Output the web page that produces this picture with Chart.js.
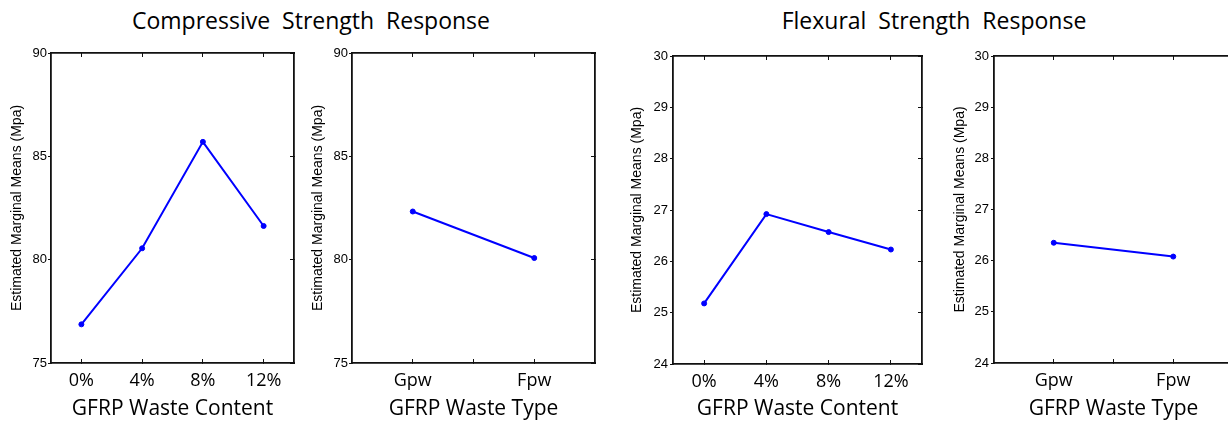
<!DOCTYPE html>
<html>
<head>
<meta charset="utf-8">
<script src="https://cdn.jsdelivr.net/npm/chart.js@4"></script>
<style>
  html, body { margin: 0; padding: 0; background: #fff; overflow: hidden; }
  body { width: 1228px; height: 423px; position: relative; }
  canvas { position: absolute; }
  .title { position: absolute; top: 9px; font-family: "Open Sans", sans-serif; font-size: 23px; line-height: 23px; color: #000; white-space: pre; transform: translateX(-50%); }
</style>
</head>
<body>
<div class="title" style="left:311px">Compressive  Strength  Response</div>
<div class="title" style="left:934px">Flexural  Strength  Response</div>
<canvas id="c1" width="300" height="393" style="left:0px;top:30px"></canvas>
<canvas id="c2" width="300" height="393" style="left:300px;top:30px"></canvas>
<canvas id="c3" width="315" height="393" style="left:615px;top:30px"></canvas>
<canvas id="c4" width="320" height="393" style="left:935px;top:30px"></canvas>
<script>
// categories
const contentLabels = ['0%', '4%', '8%', '12%'];
const typeLabels = ['Gpw', 'Fpw'];

// estimated marginal means (Mpa)
const compContent = [76.87, 80.55, 85.70, 81.63];
const compType = [82.33, 80.08];
const flexContent = [25.18, 26.92, 26.57, 26.23];
const flexType = [26.35, 26.08];

// tick values
const compTicks = [75, 80, 85, 90];
const flexTicks = [24, 25, 26, 27, 28, 29, 30];
const contentTicks = [0, 1, 2, 3];
const typeTicks = [0, 0.5, 1];

const yTitle = 'Estimated Marginal Means (Mpa)';

function makePanel(id, labels, values, yTicks, xTicks, xTitle, lay) {
    const ctx = document.getElementById(id).getContext('2d');
    const border = { display: true, color: '#111', width: 1.8 };
    const setX = (s) => { s.ticks = xTicks.map(v => ({ value: v })); };
    const setY = (s) => { s.ticks = yTicks.map(v => ({ value: v })); };
    new Chart(ctx, { //eslint-disable-line
        type: 'line',
        data: {
            datasets: [{
                data: values.map((v, i) => ({ x: i, y: v })),
                borderColor: '#0000ff',
                borderWidth: 2,
                backgroundColor: '#0000ff',
                pointRadius: 2.5,
                pointBorderWidth: 1,
                tension: 0
            }]
        },
        options: {
            responsive: false,
            animation: false,
            events: [],
            layout: { padding: { top: lay.top, right: lay.right, left: 0, bottom: 0 } },
            plugins: { legend: { display: false }, tooltip: { enabled: false } },
            scales: {
                x: {
                    type: 'linear', position: 'bottom',
                    min: -0.5, max: labels.length - 0.5,
                    afterBuildTicks: setX,
                    afterFit: (s) => { s.height = lay.xh; },
                    border: border,
                    grid: { drawOnChartArea: false, tickLength: -4, color: '#111' },
                    ticks: {
                        autoSkip: false, maxRotation: 0, padding: 11, color: '#000',
                        font: { family: 'Open Sans', size: 18 },
                        callback: (v) => Number.isInteger(v) ? labels[v] : ''
                    },
                    title: {
                        display: true, text: xTitle, color: '#000',
                        font: { family: 'Open Sans', size: 21 },
                        padding: { top: 0, bottom: 1 }
                    }
                },
                x2: {
                    type: 'linear', position: 'top',
                    min: -0.5, max: labels.length - 0.5,
                    afterBuildTicks: setX,
                    afterFit: (s) => { s.height = 0; },
                    border: border,
                    grid: { drawOnChartArea: false, tickLength: -4, color: '#111' },
                    ticks: { display: false }
                },
                y: {
                    type: 'linear', position: 'left',
                    min: yTicks[0], max: yTicks[yTicks.length - 1],
                    afterBuildTicks: setY,
                    afterFit: (s) => { s.width = lay.yw; },
                    border: border,
                    grid: { drawOnChartArea: false, tickLength: 3, color: '#111' },
                    ticks: { padding: lay.tp, color: '#000', font: { family: 'Liberation Sans', size: 13 } },
                    title: {
                        display: true, text: yTitle, color: '#000',
                        font: { family: 'Liberation Sans', size: 14 },
                        padding: { top: lay.yt, bottom: 0 }
                    }
                },
                y2: {
                    type: 'linear', position: 'right',
                    display: !lay.cut,
                    min: yTicks[0], max: yTicks[yTicks.length - 1],
                    afterBuildTicks: setY,
                    afterFit: (s) => { s.width = 0; },
                    border: border,
                    grid: { drawOnChartArea: false, tickLength: -4, color: '#111' },
                    ticks: { display: false }
                }
            }
        }
    });
}

makePanel('c1', contentLabels, compContent, compTicks, contentTicks, 'GFRP Waste Content',
    { top: 23, right: 6, yw: 51, xh: 60, tp: 1, yt: 9 });
makePanel('c2', typeLabels, compType, compTicks, typeTicks, 'GFRP Waste Type',
    { top: 23, right: 5, yw: 52, xh: 60, tp: 1, yt: 10 });
makePanel('c3', contentLabels, flexContent, flexTicks, contentTicks, 'GFRP Waste Content',
    { top: 26, right: 8, yw: 58, xh: 59, tp: 2, yt: 14 });
// right edge of this panel lies past the page edge, as in the source figure
makePanel('c4', typeLabels, flexType, flexTicks, typeTicks, 'GFRP Waste Type',
    { top: 26, right: 22, yw: 59, xh: 60, tp: 2, yt: 17, cut: true });
</script>
</body>
</html>
